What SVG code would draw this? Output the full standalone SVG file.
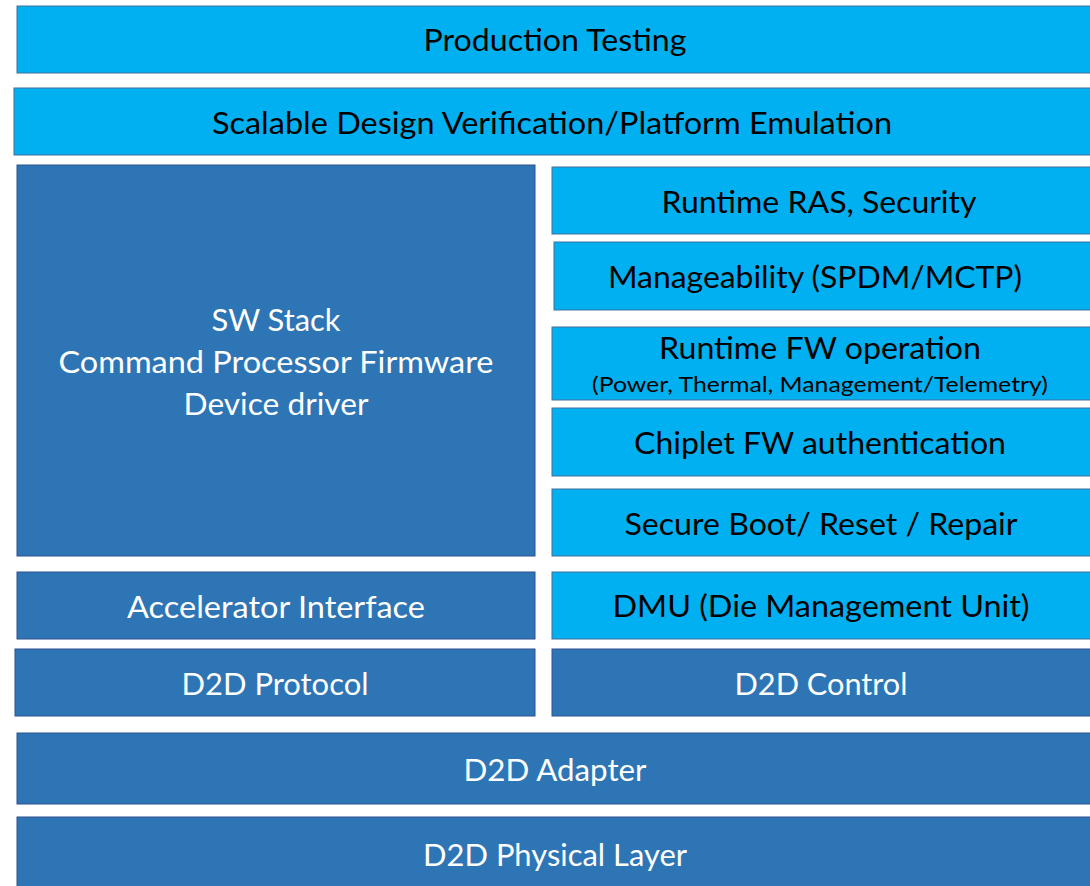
<svg xmlns="http://www.w3.org/2000/svg" width="1090" height="886" viewBox="0 0 1090 886">
<style>
.l{fill:#00B0F0;stroke:#41719C;stroke-width:1}
.d{fill:#2E75B6;stroke:#2F528F;stroke-width:1}
text{font-family:Lato,"Open Sans",sans-serif;font-size:31px;text-anchor:middle}
.k{fill:#000}
.w{fill:#fff}
.s{font-size:21px}
</style>
<rect width="1090" height="886" fill="#fff"/>
<g id="production-testing"><rect class="l" x="17" y="6" width="1080" height="67"/><text class="k" x="555" y="51" textLength="263" lengthAdjust="spacingAndGlyphs">Production Testing</text></g>
<g id="scalable-dv"><rect class="l" x="14" y="88" width="1083" height="67"/><text class="k" x="552" y="134" textLength="680" lengthAdjust="spacingAndGlyphs">Scalable Design Verification/Platform Emulation</text></g>
<g id="sw-stack"><rect class="d" x="17" y="165" width="518" height="391"/>
<text class="w" x="276" y="331" textLength="129" lengthAdjust="spacingAndGlyphs">SW Stack</text>
<text class="w" x="276" y="373" textLength="435" lengthAdjust="spacingAndGlyphs">Command Processor Firmware</text>
<text class="w" x="276" y="415" textLength="185" lengthAdjust="spacingAndGlyphs">Device driver</text></g>
<g id="runtime-ras"><rect class="l" x="552" y="167" width="545" height="67"/><text class="k" x="819" y="213" textLength="315" lengthAdjust="spacingAndGlyphs">Runtime RAS, Security</text></g>
<g id="manageability"><rect class="l" x="554" y="242" width="543" height="68"/><text class="k" x="815" y="288" textLength="414" lengthAdjust="spacingAndGlyphs">Manageability (SPDM/MCTP)</text></g>
<g id="runtime-fw"><rect class="l" x="552" y="327" width="545" height="73"/><text class="k" x="820" y="359" textLength="322" lengthAdjust="spacingAndGlyphs">Runtime FW operation</text><text class="k s" x="820" y="392" textLength="456" lengthAdjust="spacingAndGlyphs">(Power, Thermal, Management/Telemetry)</text></g>
<g id="chiplet-fw-auth"><rect class="l" x="552" y="408" width="545" height="68"/><text class="k" x="820" y="454" textLength="372" lengthAdjust="spacingAndGlyphs">Chiplet FW authentication</text></g>
<g id="secure-boot"><rect class="l" x="552" y="489" width="545" height="67"/><text class="k" x="821" y="535" textLength="393" lengthAdjust="spacingAndGlyphs">Secure Boot/ Reset / Repair</text></g>
<g id="accelerator-interface"><rect class="d" x="17" y="572" width="518" height="67"/><text class="w" x="276" y="618" textLength="298" lengthAdjust="spacingAndGlyphs">Accelerator Interface</text></g>
<g id="dmu"><rect class="l" x="552" y="572" width="545" height="67"/><text class="k" x="821" y="617" textLength="417" lengthAdjust="spacingAndGlyphs">DMU (Die Management Unit)</text></g>
<g id="d2d-protocol"><rect class="d" x="15" y="649" width="520" height="67"/><text class="w" x="275" y="695" textLength="187" lengthAdjust="spacingAndGlyphs">D2D Protocol</text></g>
<g id="d2d-control"><rect class="d" x="552" y="649" width="545" height="67"/><text class="w" x="821" y="695" textLength="173" lengthAdjust="spacingAndGlyphs">D2D Control</text></g>
<g id="d2d-adapter"><rect class="d" x="17" y="733" width="1080" height="71"/><text class="w" x="555" y="781" textLength="183" lengthAdjust="spacingAndGlyphs">D2D Adapter</text></g>
<g id="d2d-phy"><rect class="d" x="17" y="817" width="1080" height="75"/><text class="w" x="555" y="866" textLength="264" lengthAdjust="spacingAndGlyphs">D2D Physical Layer</text></g>
<g id="connectors"></g>
</svg>
